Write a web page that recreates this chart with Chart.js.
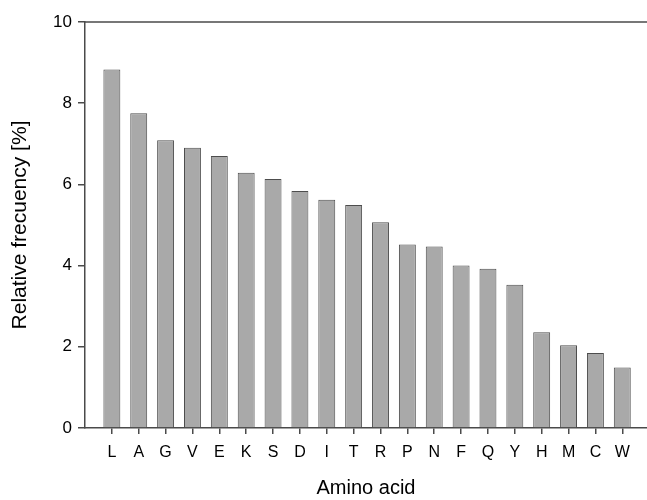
<!DOCTYPE html>
<html>
<head>
<meta charset="utf-8">
<script src="https://cdn.jsdelivr.net/npm/chart.js@4"></script>
<style>
html,body{margin:0;padding:0;background:#fff;}
#wrap{width:647px;height:500px;position:relative;}
</style>
</head>
<body>
<div id="wrap"><canvas id="c" width="647" height="500"></canvas></div>
<script>
const categories = ['L','A','G','V','E','K','S','D','I','T','R','P','N','F','Q','Y','H','M','C','W'];
const frequency = [8.83,7.75,7.09,6.90,6.70,6.29,6.13,5.84,5.62,5.49,5.07,4.52,4.47,4.00,3.92,3.53,2.36,2.04,1.85,1.49];
const yTicks = [0,2,4,6,8,10];
const xTitle = 'Amino acid';
const yTitle = 'Relative frecuency [%]';

const axisColor = '#4a4a4a';
const textColor = '#000';
const fontFamily = '"Liberation Sans", Arial, Helvetica, sans-serif';

const topLine = {
  id: 'topLine',
  afterDraw(chart) {
    const {ctx, chartArea} = chart;
    ctx.save();
    ctx.strokeStyle = axisColor;
    ctx.lineWidth = 1.5;
    ctx.beginPath();
    ctx.moveTo(chartArea.left, chartArea.top);
    ctx.lineTo(chart.width, chartArea.top);
    ctx.stroke();
    ctx.restore();
  }
};

new Chart(document.getElementById('c'), {
  type: 'bar',
  data: {
    datasets: [{
      data: frequency.map((v, i) => ({x: i, y: v})),
      backgroundColor: '#a9a9a9',
      borderColor: '#4d4d4d',
      borderWidth: 1,
      borderSkipped: 'bottom',
      categoryPercentage: 1,
      barPercentage: 0.63
    }]
  },
  options: {
    responsive: false,
    animation: false,
    layout: {padding: {left: 0, right: 0, top: 22, bottom: 0}},
    plugins: {legend: {display: false}, tooltip: {enabled: false}},
    scales: {
      x: {
        type: 'linear',
        offset: false,
        min: -1,
        max: 19.92,
        afterBuildTicks: s => { s.ticks = categories.map((c, i) => ({value: i})); },
        afterFit: s => { s.height = 72; },
        ticks: {
          autoSkip: false,
          maxRotation: 0,
          padding: 9,
          color: textColor,
          font: {family: fontFamily, size: 16},
          callback: v => categories[v] !== undefined ? categories[v] : ''
        },
        grid: {offset: false, drawOnChartArea: false, drawTicks: true, tickLength: 6, color: axisColor, lineWidth: 1.5},
        border: {display: true, color: axisColor, width: 1.5},
        title: {display: true, text: xTitle, color: textColor, font: {family: fontFamily, size: 20}, padding: {top: 0, bottom: 0}}
      },
      y: {
        min: 0,
        max: 10,
        afterBuildTicks: s => { s.ticks = yTicks.map(v => ({value: v})); },
        afterFit: s => { s.width = 85; },
        ticks: {
          padding: 6,
          color: textColor,
          font: {family: fontFamily, size: 17}
        },
        grid: {drawOnChartArea: false, drawTicks: true, tickLength: 7, color: axisColor, lineWidth: 1.5},
        border: {display: true, color: axisColor, width: 1.5},
        title: {display: true, text: yTitle, color: textColor, font: {family: fontFamily, size: 21}, padding: {top: 8, bottom: 0}}
      }
    }
  },
  plugins: [topLine]
});
</script>
</body>
</html>
